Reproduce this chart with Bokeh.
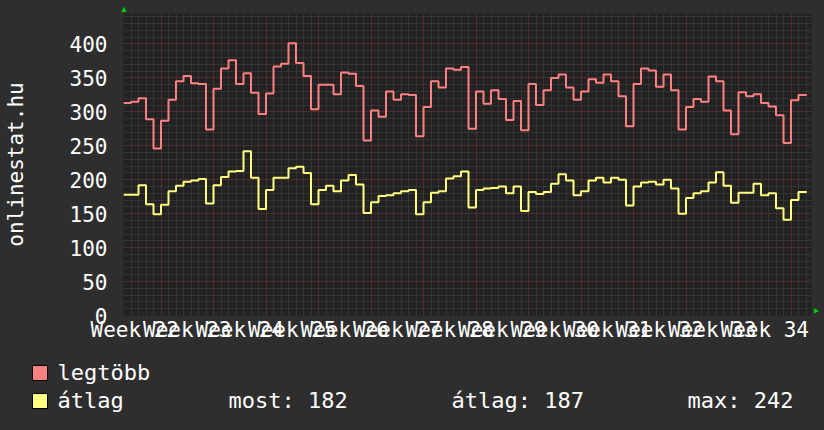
from bokeh.plotting import figure
from bokeh.models import Range1d, FixedTicker, ColumnDataSource, AllLabels, Title, Div
from bokeh.layouts import column
from bokeh.embed import file_html
from bokeh.resources import INLINE

# ---- data (daily values) ----
legtobb = [313, 315, 320, 289, 246, 287, 318, 345, 353, 342, 341, 274, 334, 364, 376,
           341, 357, 328, 297, 327, 367, 371, 401, 372, 353, 304, 340, 340, 326, 358,
           356, 338, 258, 302, 293, 330, 318, 326, 325, 264, 307, 345, 336, 364, 362,
           366, 275, 330, 312, 332, 319, 288, 316, 273, 341, 310, 332, 350, 355, 336,
           318, 330, 348, 343, 355, 345, 323, 279, 341, 364, 361, 337, 355, 332, 274,
           307, 319, 315, 352, 345, 302, 267, 329, 323, 326, 313, 308, 295, 254, 317, 325]
atlag = [178, 178, 192, 164, 149, 163, 183, 191, 197, 199, 201, 165, 192, 204, 212,
         213, 242, 203, 157, 185, 203, 203, 217, 219, 210, 164, 185, 191, 183, 199,
         207, 193, 151, 167, 176, 177, 180, 183, 185, 149, 167, 181, 183, 202, 205,
         212, 159, 185, 187, 188, 190, 180, 190, 154, 182, 179, 182, 194, 208, 199,
         177, 183, 199, 203, 196, 203, 200, 162, 190, 196, 197, 193, 200, 187, 150,
         173, 180, 183, 196, 211, 191, 166, 181, 181, 194, 177, 180, 158, 141, 170, 182]
end_day = 91.1          # data stops a little after the start of the last day
week_lines = [5 + 7 * k for k in range(13)]
week_label_pos = [1.5 + 7 * k for k in range(13)]
week_labels = ["Week %d" % (22 + k) for k in range(13)]
y_ticks = list(range(0, 401, 50))
series_names = ["legtöbb", "átlag"]
series_colors = ["#ff8080", "#ffff80"]
stats_labels = ["most: 182", "átlag: 187", "max: 242"]

FONT = "DejaVu Sans Mono"
BG = "#2e2e2e"
PLOT_BG = "#222222"
TXT = "#ffffff"
ARROW = "#00cc00"

W = 824
PLOT_H = 344
LEG_H = 430 - PLOT_H
B_LEFT, B_RIGHT, B_TOP, B_BOTTOM = 123, 13, 13, 28
FRAME_W = W - B_LEFT - B_RIGHT
FRAME_H = PLOT_H - B_TOP - B_BOTTOM
span_days = FRAME_W / 7.5
y_max = FRAME_H / 0.681

p = figure(width=W, height=PLOT_H, x_range=Range1d(0, span_days), y_range=Range1d(0, y_max),
           output_backend="svg", toolbar_location=None,
           min_border_left=B_LEFT, min_border_right=B_RIGHT,
           min_border_top=B_TOP, min_border_bottom=B_BOTTOM,
           background_fill_color=PLOT_BG, border_fill_color=BG, outline_line_color=None)

# small green arrow at the top of the y axis (as the plot title)
p.title.text = "▲"
p.title.text_color = ARROW
p.title.text_font_size = "9px"
p.title.align = "left"
p.title.offset = -4
p.title.standoff = 0
# small green arrow at the right end of the x axis
p.add_layout(Title(text="▲", text_color=ARROW, text_font_size="9px", align="right",
                   standoff=0), "right")

# grids
p.xgrid.ticker = FixedTicker(ticks=week_lines, minor_ticks=list(range(0, 92)))
p.ygrid.ticker = FixedTicker(ticks=y_ticks, minor_ticks=list(range(0, int(y_max) + 1, 10)))
for g in (p.xgrid, p.ygrid):
    g.grid_line_color = "#6a2b2b"
    g.grid_line_dash = "1 1"
    g.grid_line_width = 1
    g.minor_grid_line_color = "#444444"
    g.minor_grid_line_dash = "1 1"
    g.minor_grid_line_width = 1

# axes
p.xaxis.ticker = FixedTicker(ticks=week_label_pos)
p.xaxis.major_label_overrides = {pos: lbl for pos, lbl in zip(week_label_pos, week_labels)}
p.xaxis.major_label_policy = AllLabels()
p.yaxis.ticker = FixedTicker(ticks=y_ticks)
p.yaxis.major_label_policy = AllLabels()
for ax in (p.xaxis, p.yaxis):
    ax.axis_line_color = None
    ax.major_tick_line_color = None
    ax.minor_tick_line_color = None
    ax.major_tick_out = 0
    ax.major_tick_in = 0
    ax.major_label_text_font = FONT
    ax.major_label_text_font_size = "21px"
    ax.major_label_text_color = TXT
p.xaxis.major_label_standoff = 2
p.yaxis.major_label_standoff = 16
p.yaxis.axis_label = "onlinestat.hu"
p.yaxis.axis_label_text_font = FONT
p.yaxis.axis_label_text_font_size = "21px"
p.yaxis.axis_label_text_font_style = "normal"
p.yaxis.axis_label_text_color = TXT
p.yaxis.axis_label_standoff = 39

# series as step lines
for vals, col in zip([legtobb, atlag], series_colors):
    xs = list(range(len(vals))) + [end_day]
    ys = vals + [vals[-1]]
    src = ColumnDataSource(dict(x=xs, y=ys))
    p.step("x", "y", source=src, mode="after", line_color=col, line_width=2)

# RRDtool-style legend strip below the plot
row_top = [365 - PLOT_H, 393 - PLOT_H]          # swatch tops inside the strip
text_top = [359.9 - PLOT_H, 388.4 - PLOT_H]      # text line boxes (line-height 26px)
parts = []
for i, (name, col) in enumerate(zip(series_names, series_colors)):
    parts.append('<span style="position:absolute;left:31.5px;top:%.1fpx;width:16px;height:16px;'
                 'box-sizing:border-box;background:%s;border:1px solid #000;"></span>'
                 % (row_top[i], col))
    parts.append('<span style="position:absolute;left:57.5px;top:%.1fpx;line-height:26px;'
                 'white-space:pre;">%s</span>' % (text_top[i], name))
for xpx, txt in zip([228.5, 451.5, 687.5], stats_labels):
    parts.append('<span style="position:absolute;left:%.1fpx;top:%.1fpx;line-height:26px;'
                 'white-space:pre;">%s</span>' % (xpx, text_top[1], txt))
legend_html = ('<div style="position:relative;width:%dpx;height:%dpx;background:%s;'
               'font-family:\'%s\';font-size:22px;color:%s;">%s</div>'
               % (W, LEG_H, BG, FONT, TXT, "".join(parts)))
legend = Div(text=legend_html, width=W, height=LEG_H, margin=0)

layout = column(p, legend, spacing=0)
html = file_html(layout, INLINE)
html = html.replace("<head>", "<head><style>html,body{background:%s;}</style>" % BG, 1)
open("out.html", "w").write(html)
